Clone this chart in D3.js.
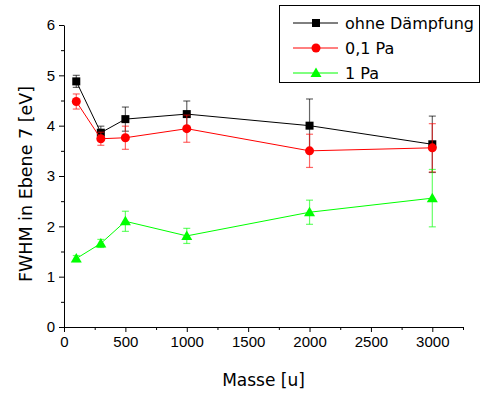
<!DOCTYPE html>
<html lang="de">
<head>
  <meta charset="UTF-8" />
  <title>FWHM in Ebene 7</title>
  <script src="https://d3js.org/d3.v7.min.js"></script>
  <style>
    body { margin: 0; background: #fff; }
    svg { display: block; font-family: "DejaVu Sans", sans-serif; }
    .axis path, .axis line { stroke: #000; stroke-width: 1; }
    .axis text { font-size: 15px; fill: #000; }
  </style>
</head>
<body>
<svg width="483" height="394"></svg>
<script>
  const masses = [100, 300, 500, 1000, 2000, 3000];

  const ohneValues = [4.88, 3.86, 4.13, 4.23, 4.00, 3.63];
  const ohneErrors = [0.12, 0.13, 0.24, 0.26, 0.53, 0.56];

  const pa01Values = [4.48, 3.74, 3.76, 3.94, 3.50, 3.56];
  const pa01Errors = [0.15, 0.13, 0.23, 0.27, 0.33, 0.48];

  const pa1Values = [1.36, 1.66, 2.10, 1.81, 2.28, 2.56];
  const pa1Errors = [0.06, 0.08, 0.20, 0.15, 0.24, 0.57];

  const seriesNames = ["ohne Dämpfung", "0,1 Pa", "1 Pa"];
  const xTicks = [0, 500, 1000, 1500, 2000, 2500, 3000];
  const yTicks = [0, 1, 2, 3, 4, 5, 6];

  const series = [
    { name: seriesNames[0], values: ohneValues, errors: ohneErrors, color: "#000000", shape: "square" },
    { name: seriesNames[1], values: pa01Values, errors: pa01Errors, color: "#ff0000", shape: "circle" },
    { name: seriesNames[2], values: pa1Values, errors: pa1Errors, color: "#00ff00", shape: "triangle" }
  ];

  const svg = d3.select("svg");
  const margin = { left: 64, top: 25, right: 20, bottom: 67 };
  const plotW = 463 - margin.left;
  const plotH = 327 - margin.top;

  const x = d3.scaleLinear().domain([0, 3250]).range([margin.left, margin.left + plotW]);
  const y = d3.scaleLinear().domain([0, 6]).range([margin.top + plotH, margin.top]);

  // minor ticks
  const gMinorX = svg.append("g").attr("class", "axis")
    .attr("transform", `translate(0,${y(0)})`)
    .call(d3.axisBottom(x).tickValues(d3.range(250, 3251, 500)).tickSize(3).tickFormat(""));
  gMinorX.select(".domain").remove();
  const gMinorY = svg.append("g").attr("class", "axis")
    .attr("transform", `translate(${x(0)},0)`)
    .call(d3.axisLeft(y).tickValues(d3.range(0.5, 6, 1)).tickSize(3).tickFormat(""));
  gMinorY.select(".domain").remove();

  svg.append("g").attr("class", "axis")
    .attr("transform", `translate(0,${y(0)})`)
    .call(d3.axisBottom(x).tickValues(xTicks).tickFormat(d3.format("d"))
      .tickSize(5).tickSizeOuter(0).tickPadding(4));

  svg.append("g").attr("class", "axis")
    .attr("transform", `translate(${x(0)},0)`)
    .call(d3.axisLeft(y).tickValues(yTicks).tickFormat(d3.format("d"))
      .tickSize(5).tickSizeOuter(0).tickPadding(4));

  // axis titles
  svg.append("text")
    .attr("x", (x(0) + x(3250)) / 2).attr("y", 386)
    .attr("text-anchor", "middle")
    .style("font-size", "17px")
    .text("Masse [u]");

  svg.append("text")
    .attr("transform", `translate(32,184) rotate(-90)`)
    .attr("text-anchor", "middle")
    .style("font-size", "17.5px")
    .text("FWHM in Ebene 7 [eV]");

  function drawMarker(g, shape, color, cx, cy) {
    if (shape === "square") {
      g.append("rect").attr("x", cx - 4).attr("y", cy - 4)
        .attr("width", 8).attr("height", 8).attr("fill", color);
    } else if (shape === "circle") {
      g.append("circle").attr("cx", cx).attr("cy", cy).attr("r", 4.5).attr("fill", color);
    } else {
      g.append("path")
        .attr("d", `M${cx},${cy - 5.5}L${cx + 5.5},${cy + 4}L${cx - 5.5},${cy + 4}Z`)
        .attr("fill", color);
    }
  }

  const line = d3.line().x((d, i) => x(masses[i])).y(d => y(d));

  series.forEach(s => {
    const g = svg.append("g");
    // error bars
    s.values.forEach((v, i) => {
      const cx = x(masses[i]);
      const e = s.errors[i];
      const eb = g.append("g").attr("stroke", s.color).attr("stroke-opacity", 0.6).attr("stroke-width", 1.2);
      eb.append("line").attr("x1", cx).attr("x2", cx).attr("y1", y(v - e)).attr("y2", y(v + e));
      eb.append("line").attr("x1", cx - 3.5).attr("x2", cx + 3.5).attr("y1", y(v - e)).attr("y2", y(v - e));
      eb.append("line").attr("x1", cx - 3.5).attr("x2", cx + 3.5).attr("y1", y(v + e)).attr("y2", y(v + e));
    });
    g.append("path").datum(s.values)
      .attr("d", line).attr("fill", "none")
      .attr("stroke", s.color).attr("stroke-width", 1);
    s.values.forEach((v, i) => drawMarker(g, s.shape, s.color, x(masses[i]), y(v)));
  });

  // legend
  const legend = svg.append("g");
  legend.append("rect")
    .attr("x", 279.5).attr("y", 5.5).attr("width", 200).attr("height", 77)
    .attr("fill", "#fff").attr("stroke", "#000");
  series.forEach((s, i) => {
    const ly = 23 + i * 25;
    legend.append("line").attr("x1", 293).attr("x2", 338).attr("y1", ly).attr("y2", ly)
      .attr("stroke", s.color).attr("stroke-width", 1);
    drawMarker(legend, s.shape, s.color, 316, ly);
    legend.append("text").attr("x", 345).attr("y", ly + 6)
      .style("font-size", "16px").text(s.name);
  });
</script>
</body>
</html>
